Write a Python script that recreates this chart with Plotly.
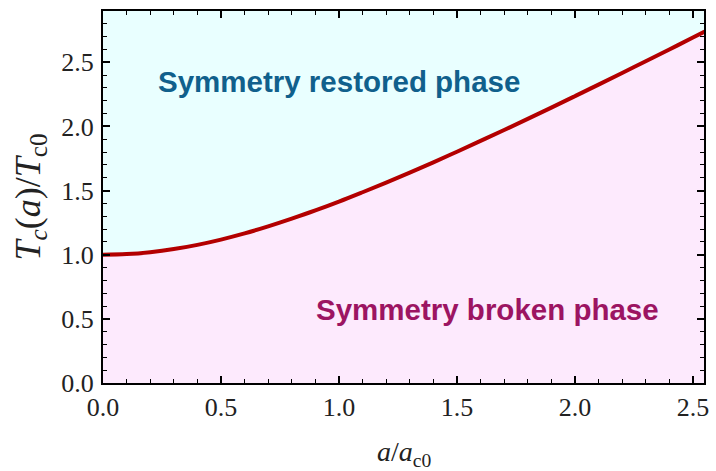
import plotly.graph_objects as go

# a / a_c0 values
a_ratio = [0.0, 0.1, 0.2, 0.3, 0.4, 0.5, 0.6, 0.7, 0.8, 0.9, 1.0, 1.1, 1.2, 1.3,
           1.4, 1.5, 1.6, 1.7, 1.8, 1.9, 2.0, 2.1, 2.2, 2.3, 2.4, 2.5, 2.55]
# Tc(a)/Tc0 values
tc_ratio = [1.000, 1.005, 1.020, 1.044, 1.077, 1.118, 1.166, 1.221, 1.281, 1.345,
            1.414, 1.487, 1.562, 1.640, 1.720, 1.803, 1.887, 1.972, 2.059, 2.147,
            2.236, 2.326, 2.417, 2.508, 2.600, 2.693, 2.739]

x_ticks = [0.0, 0.5, 1.0, 1.5, 2.0, 2.5]
y_ticks = [0.0, 0.5, 1.0, 1.5, 2.0, 2.5]

region_labels = ["Symmetry restored phase", "Symmetry broken phase"]
region_x = [1.0, 1.63]
region_y = [2.35, 0.57]

SERIF = "Liberation Serif"

fig = go.Figure()
fig.add_trace(go.Scatter(x=a_ratio, y=tc_ratio, mode="lines", fill="tozeroy",
                         fillcolor="#fdeafd", line=dict(width=0, color="rgba(0,0,0,0)"),
                         line_shape="spline", hoverinfo="skip", showlegend=False))
fig.add_trace(go.Scatter(x=a_ratio, y=tc_ratio, mode="lines",
                         line=dict(color="#b30000", width=4, shape="spline"),
                         showlegend=False))

fig.add_annotation(x=region_x[0], y=region_y[0], text="<b>" + region_labels[0] + "</b>",
                   showarrow=False, font=dict(family="Liberation Sans", size=29.5, color="#10608c"))
fig.add_annotation(x=region_x[1], y=region_y[1], text="<b>" + region_labels[1] + "</b>",
                   showarrow=False, font=dict(family="Liberation Sans", size=29.5, color="#9c1462"))

# x-axis title as a paper-anchored annotation (axis titles are clamped to the margin)
fig.add_annotation(x=0.501, y=-0.19, xref="paper", yref="paper", xanchor="center", yanchor="middle",
                   text="<i>a</i>/<i>a</i><sub>c0</sub>", showarrow=False,
                   font=dict(family=SERIF, size=28, color="#222"))

axis_common = dict(showline=True, linecolor="black", linewidth=2, mirror="allticks",
                   ticks="inside", ticklen=7, tickwidth=1.5, tickcolor="black",
                   showgrid=False, zeroline=False, automargin=False,
                   tickfont=dict(family=SERIF, size=26, color="#222"),
                   minor=dict(ticks="inside", ticklen=4, tickwidth=1, tickcolor="black", dtick=0.1, showgrid=False))

fig.update_xaxes(range=[0, 2.547], tickvals=x_ticks, ticktext=[f"{v:.1f}" for v in x_ticks],
                 ticklabelstandoff=0, **axis_common)
fig.update_yaxes(range=[0, 2.9], tickvals=y_ticks, ticktext=[f"{v:.1f}" for v in y_ticks],
                 ticklabelstandoff=2,
                 title=dict(text="<i>T<sub>c</sub></i>(<i>a</i>)/<i>T</i><sub>c0</sub>", standoff=10,
                            font=dict(family=SERIF, size=36, color="#222")),
                 **axis_common)

fig.update_layout(width=716, height=471, margin=dict(l=103, r=12, t=11, b=88),
                  font=dict(family=SERIF),
                  plot_bgcolor="#e9ffff", paper_bgcolor="white")

fig.write_html("out.html")
